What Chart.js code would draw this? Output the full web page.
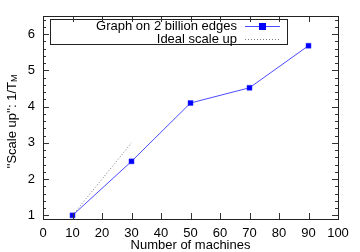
<!DOCTYPE html>
<html lang="en">
<head>
    <meta charset="UTF-8">
    <title>Scale up</title>
    <script src="https://cdn.jsdelivr.net/npm/chart.js"></script>
    <style>
        html, body { margin: 0; padding: 0; background: #fff; }
        #wrap { width: 360px; height: 252px; }
    </style>
</head>
<body>
    <div id="wrap"><canvas id="scaleChart"></canvas></div>

    <script>
        // data
        var machines = [10, 30, 50, 70, 90];
        var scaleUp = [1, 2.49, 4.1, 4.52, 5.68];
        var idealMachines = [10, 30];
        var idealScaleUp = [1, 3];
        var seriesNames = ['Graph on 2 billion edges', 'Ideal scale up'];
        var xTicks = [0, 10, 20, 30, 40, 50, 60, 70, 80, 90, 100];
        var yTicks = [1, 2, 3, 4, 5, 6];

        var FONT = '"Liberation Sans", Arial, sans-serif';
        var FS = 13;
        Chart.defaults.font.family = FONT;
        Chart.defaults.font.size = FS;
        Chart.defaults.color = '#000';

        function toPoints(xs, ys) {
            return xs.map(function (x, i) { return { x: x, y: ys[i] }; });
        }

        // gnuplot style inward ticks on all four sides
        var tickPlugin = {
            id: 'gnuTicks',
            afterDraw: function (chart) {
                var ctx = chart.ctx, a = chart.chartArea;
                var xs = chart.scales.x, ys = chart.scales.y;
                ctx.save();
                ctx.strokeStyle = '#333';
                ctx.lineWidth = 1;
                ctx.beginPath();
                xTicks.forEach(function (v) {
                    var px = Math.round(xs.getPixelForValue(v)) + 0.5;
                    ctx.moveTo(px, a.bottom); ctx.lineTo(px, a.bottom - 6);
                    ctx.moveTo(px, a.top); ctx.lineTo(px, a.top + 6);
                });
                for (var v = 1; v <= 6.41; v += 0.2) {
                    var major = Math.abs(v - Math.round(v)) < 0.01;
                    var len = major ? 6 : 3;
                    var py = Math.round(ys.getPixelForValue(v)) + 0.5;
                    ctx.moveTo(a.left, py); ctx.lineTo(a.left + len, py);
                    ctx.moveTo(a.right, py); ctx.lineTo(a.right - len, py);
                }
                ctx.stroke();
                ctx.strokeStyle = '#222';
                ctx.strokeRect(Math.round(a.left) + 0.5, Math.round(a.top) + 0.5,
                    Math.round(a.right - a.left), Math.round(a.bottom - a.top));
                ctx.restore();
            }
        };

        // key box in gnuplot layout: text right aligned, sample on the right
        var keyPlugin = {
            id: 'gnuKey',
            afterDatasetsDraw: function (chart) {
                var ctx = chart.ctx, a = chart.chartArea;
                var left = a.left + 7, top = a.top + 3;
                var textRight = left + 187, sx0 = left + 195, sx1 = left + 230;
                ctx.save();
                ctx.fillStyle = '#fff';
                ctx.fillRect(left, top, 237, 25);
                ctx.strokeStyle = '#222';
                ctx.lineWidth = 1;
                ctx.strokeRect(left + 0.5, top + 0.5, 237, 25);
                ctx.font = FS + 'px ' + FONT;
                ctx.textAlign = 'right';
                ctx.textBaseline = 'middle';
                chart.data.datasets.forEach(function (ds, i) {
                    var y = top + 7 + i * 13;
                    ctx.fillStyle = '#000';
                    ctx.fillText(ds.label, textRight, y);
                    ctx.strokeStyle = ds.borderColor;
                    ctx.setLineDash(ds.borderDash || []);
                    ctx.beginPath();
                    ctx.moveTo(sx0, y + 0.5); ctx.lineTo(sx1, y + 0.5);
                    ctx.stroke();
                    ctx.setLineDash([]);
                    if (ds.pointRadius > 0) {
                        ctx.fillStyle = ds.pointBackgroundColor;
                        ctx.fillRect((sx0 + sx1) / 2 - 3.5, y - 3, 7, 7);
                    }
                });
                ctx.restore();
            }
        };

        // y title with subscript M
        var yTitlePlugin = {
            id: 'yTitle',
            afterDraw: function (chart) {
                var ctx = chart.ctx, a = chart.chartArea;
                var main = "''Scale up'': 1/T", sub = 'M';
                ctx.save();
                ctx.fillStyle = '#000';
                ctx.font = FS + 'px ' + FONT;
                var w1 = ctx.measureText(main).width;
                ctx.font = '9px ' + FONT;
                var w2 = ctx.measureText(sub).width;
                ctx.translate(12, (a.top + a.bottom) / 2 + 4);
                ctx.rotate(-Math.PI / 2);
                ctx.textBaseline = 'middle';
                ctx.textAlign = 'left';
                var start = -(w1 + w2) / 2;
                ctx.font = FS + 'px ' + FONT;
                ctx.fillText(main, start, 0);
                ctx.font = '9px ' + FONT;
                ctx.fillText(sub, start + w1, 3);
                ctx.restore();
            }
        };

        var ctx = document.getElementById('scaleChart').getContext('2d');
        var chart = new Chart(ctx, {
            type: 'line',
            data: {
                datasets: [
                    {
                        label: seriesNames[0],
                        data: toPoints(machines, scaleUp),
                        borderColor: '#4b4bff',
                        borderWidth: 1,
                        pointStyle: 'rect',
                        pointRadius: 3.5,
                        pointBackgroundColor: '#0000ff',
                        pointBorderColor: '#2a2aff',
                        pointBorderWidth: 0.5,
                        fill: false,
                        tension: 0
                    },
                    {
                        label: seriesNames[1],
                        data: toPoints(idealMachines, idealScaleUp),
                        borderColor: '#7a7a7a',
                        borderWidth: 1,
                        borderDash: [1, 2],
                        pointRadius: 0,
                        fill: false,
                        tension: 0
                    }
                ]
            },
            options: {
                responsive: true,
                maintainAspectRatio: false,
                animation: false,
                events: [],
                layout: { padding: { left: 0, top: 16, right: 22, bottom: 0 } },
                plugins: {
                    legend: { display: false },
                    tooltip: { enabled: false }
                },
                scales: {
                    x: {
                        type: 'linear',
                        min: 0,
                        max: 100,
                        afterFit: function (s) { s.height = 33; },
                        afterBuildTicks: function (s) {
                            s.ticks = xTicks.map(function (v) { return { value: v }; });
                        },
                        grid: { display: false, drawTicks: false },
                        border: { display: false },
                        ticks: { padding: 7, autoSkip: false, maxRotation: 0 },
                        title: {
                            display: true,
                            text: 'Number of machines',
                            font: { lineHeight: 1 },
                            padding: { top: 0, bottom: 0 }
                        }
                    },
                    y: {
                        type: 'linear',
                        min: 0.9,
                        max: 6.5,
                        afterFit: function (s) { s.width = 43; },
                        afterBuildTicks: function (s) {
                            s.ticks = yTicks.map(function (v) { return { value: v }; });
                        },
                        grid: { display: false, drawTicks: false },
                        border: { display: false },
                        ticks: { padding: 8, autoSkip: false }
                    }
                }
            },
            plugins: [tickPlugin, keyPlugin, yTitlePlugin]
        });
    </script>
</body>
</html>
